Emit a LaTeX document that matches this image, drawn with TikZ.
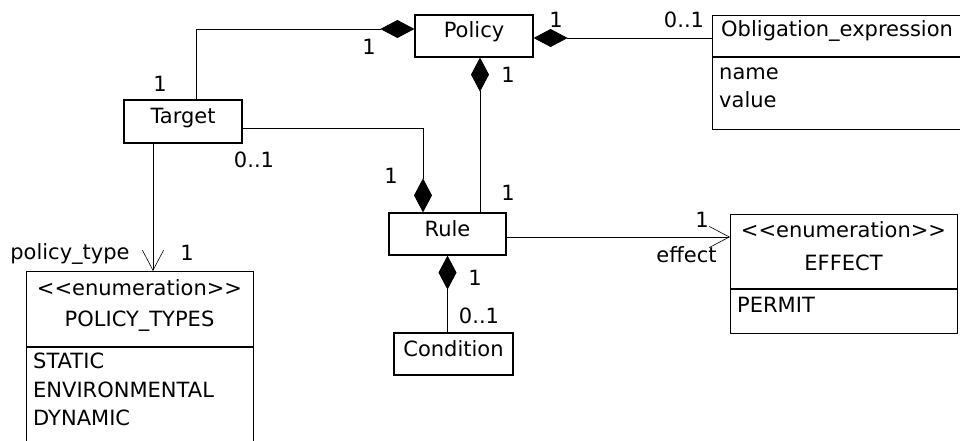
\documentclass[tikz,border=0pt]{standalone}
\usepackage{fontspec}
\setmainfont{DejaVu Sans}
\usetikzlibrary{arrows.meta, positioning}

\begin{document}
\begin{tikzpicture}[
  x=1pt, y=-1pt,
  font=\fontsize{21}{25}\selectfont,
  cls/.style={rectangle, draw, line width=1.2pt, inner sep=0pt,
              text height=16pt, text depth=12pt},
  comp/.style={rectangle, draw, line width=1.2pt, inner sep=0pt,
               anchor=north west},
  txt/.style={inner sep=0pt, anchor=base},
  attr/.style={inner sep=0pt, anchor=base west},
  mult/.style={inner sep=0pt, anchor=base},
  assoc/.style={line width=0.8pt},
  own/.style={assoc, {Diamond[length=34pt, width=18pt]}-},
  nav/.style={assoc, -{Straight Barb[length=20pt, width=21pt, line width=0.6pt]}}
]
\path[use as bounding box, clip] (0,0) rectangle (960,441);

% Classes
\node[cls, minimum width=118pt, minimum height=42pt] (policy) at (474,36) {Policy};
\node[cls, minimum width=118pt, minimum height=43pt] (target) at (183,121.5) {Target};
\node[cls, minimum width=117pt, minimum height=42pt] (rule) at (447.5,234) {Rule};
\node[cls, minimum width=119pt, minimum height=42pt] (condition) at (453.5,354) {Condition};

% Obligation_expression
\node[comp, minimum width=270pt, minimum height=41pt] (obl) at (712,15) {};
\node[comp, minimum width=270pt, minimum height=72pt] (obl-attr) at (obl.south west) {};
\node[attr] (obl-name) at (721,37) {Obligation\_expression};
\node[attr] (obl-a1) at (719,80) {name};
\node[attr] (obl-a2) at (719,108) {value};

% Enumerations
\node[comp, minimum width=227pt, minimum height=75pt] (ptypes) at (26,271) {};
\node[comp, minimum width=227pt, minimum height=120pt] (ptypes-attr) at (ptypes.south west) {};
\node[txt] (ptypes-st) at (139.5,295) {<\kern0pt<enumeration>\kern0pt>};
\node[txt] (ptypes-name) at (139.5,326) {POLICY\_TYPES};
\node[attr] (ptypes-a1) at (33,368) {STATIC};
\node[attr] (ptypes-a2) at (33,397) {ENVIRONMENTAL};
\node[attr] (ptypes-a3) at (33,425) {DYNAMIC};

\node[comp, minimum width=227pt, minimum height=74pt] (effect) at (730,214) {};
\node[comp, minimum width=227pt, minimum height=44pt] (effect-attr) at (effect.south west) {};
\node[txt] (effect-st) at (843.5,237) {<\kern0pt<enumeration>\kern0pt>};
\node[txt] (effect-name) at (843.5,270) {EFFECT};
\node[attr] (effect-a1) at (737,312) {PERMIT};

% Associations
\draw[own] ([yshift=7pt]policy.west) -| ([xshift=13pt]target.north);
\draw[own] ([yshift=-2pt]policy.east) -- ([yshift=-2pt]policy.east -| obl.west);
\draw[own] ([xshift=6pt]policy.south) -- ([xshift=6pt]policy.south |- rule.north);
\draw[own] ([xshift=-24.5pt]rule.north) |- ([yshift=-6.5pt]target.east);
\draw[own] (rule.south) -- (rule.south |- condition.north);
\draw[nav] ([yshift=-3pt]rule.east) -- ([yshift=-3pt]rule.east -| effect.west);
\draw[nav] ([xshift=-30pt]target.south) -- ([xshift=-30pt]target.south |- ptypes.north);

% Multiplicities and roles
\node[mult] (m-pol-tgt) at (369,55) {1};
\node[mult] (m-tgt-pol) at (160,92) {1};
\node[mult] (m-tgt-rule) at (254,167) {0..1};
\node[mult] (m-rule-tgt) at (391,183) {1};
\node[mult] (m-pol-rule) at (508,83) {1};
\node[mult] (m-rule-pol) at (508,200) {1};
\node[mult] (m-pol-obl) at (556,28) {1};
\node[mult] (m-obl-pol) at (684,28) {0..1};
\node[mult] (m-eff) at (702,227) {1};
\node[mult] (r-eff) at (686.5,262) {effect};
\node[mult] (r-ptype) at (70,259) {policy\_type};
\node[mult] (m-ptype) at (187,260) {1};
\node[mult] (m-rule-cond) at (475,285) {1};
\node[mult] (m-cond-rule) at (479,323) {0..1};

\end{tikzpicture}
\end{document}
